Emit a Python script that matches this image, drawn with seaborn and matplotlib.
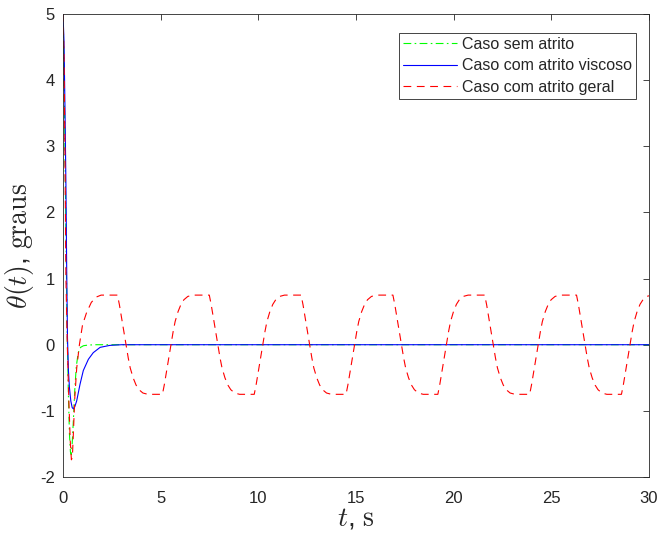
import numpy as np
import pandas as pd
import seaborn as sns
import matplotlib
matplotlib.use('Agg')
import matplotlib.pyplot as plt

# Caso sem atrito (green, dash-dot)
green_t = [0, 0.05, 0.1, 0.17, 0.22, 0.28, 0.33, 0.38, 0.42, 0.47, 0.53, 0.6, 0.68, 0.78,
           0.9, 1.05, 1.3, 1.7, 30]
green_theta = [5, 4.2, 3.0, 1.2, 0.1, -0.8, -1.35, -1.62, -1.66, -1.5, -1.15, -0.7, -0.33, -0.12,
               -0.04, -0.015, -0.005, 0.0, 0.0]

# Caso com atrito viscoso (blue, solid)
blue_t = [0, 0.05, 0.1, 0.15, 0.19, 0.23, 0.28, 0.33, 0.4, 0.47, 0.53, 0.6, 0.7, 0.87,
          1.04, 1.3, 1.55, 1.9, 2.4, 3.0, 30]
blue_theta = [5, 4.6, 3.6, 2.4, 1.1, 0.1, -0.4, -0.65, -0.85, -0.95, -0.97, -0.94, -0.85, -0.6,
              -0.39, -0.22, -0.12, -0.04, -0.01, 0.0, 0.0]

# Caso com atrito geral (red, dashed)
red_t = [0, 0.05, 0.1, 0.15, 0.22, 0.3, 0.37, 0.43, 0.48, 0.53, 0.6, 0.7, 0.84, 1.0, 1.2, 1.45, 1.7, 1.95,
         2.79, 2.89, 2.99, 3.09, 3.22, 3.34, 3.44, 3.59, 3.74, 3.89, 4.09, 4.34,
         5.09, 5.19, 5.29, 5.39, 5.52, 5.64, 5.74, 5.89, 6.04, 6.19, 6.39, 6.64,
         7.49, 7.59, 7.69, 7.79, 7.92, 8.04, 8.14, 8.29, 8.44, 8.59, 8.79, 9.04,
         9.79, 9.89, 9.99, 10.09, 10.22, 10.34, 10.44, 10.59, 10.74, 10.89, 11.09, 11.34,
         12.19, 12.29, 12.39, 12.49, 12.62, 12.74, 12.84, 12.99, 13.14, 13.29, 13.49, 13.74,
         14.49, 14.59, 14.69, 14.79, 14.92, 15.04, 15.14, 15.29, 15.44, 15.59, 15.79, 16.04,
         16.89, 16.99, 17.09, 17.19, 17.32, 17.44, 17.54, 17.69, 17.84, 17.99, 18.19, 18.44,
         19.19, 19.29, 19.39, 19.49, 19.62, 19.74, 19.84, 19.99, 20.14, 20.29, 20.49, 20.74,
         21.59, 21.69, 21.79, 21.89, 22.02, 22.14, 22.24, 22.39, 22.54, 22.69, 22.89, 23.14,
         23.89, 23.99, 24.09, 24.19, 24.32, 24.44, 24.54, 24.69, 24.84, 24.99, 25.19, 25.44,
         26.29, 26.39, 26.49, 26.59, 26.72, 26.84, 26.94, 27.09, 27.24, 27.39, 27.59, 27.84,
         28.59, 28.69, 28.79, 28.89, 29.02, 29.14, 29.24, 29.39, 29.54, 29.69, 29.89, 30.0]
red_theta = [5, 4.4, 2.9, 1.0, 0.0, -0.85, -1.45, -1.74, -1.7, -1.35, -0.82, -0.36, 0.0, 0.3, 0.48, 0.64, 0.72, 0.75,
             0.75, 0.6, 0.42, 0.23, 0.0, -0.2, -0.35, -0.5, -0.61, -0.68, -0.73, -0.75,
             -0.75, -0.6, -0.42, -0.23, 0.0, 0.2, 0.35, 0.5, 0.61, 0.68, 0.73, 0.75,
             0.75, 0.6, 0.42, 0.23, 0.0, -0.2, -0.35, -0.5, -0.61, -0.68, -0.73, -0.75,
             -0.75, -0.6, -0.42, -0.23, 0.0, 0.2, 0.35, 0.5, 0.61, 0.68, 0.73, 0.75,
             0.75, 0.6, 0.42, 0.23, 0.0, -0.2, -0.35, -0.5, -0.61, -0.68, -0.73, -0.75,
             -0.75, -0.6, -0.42, -0.23, 0.0, 0.2, 0.35, 0.5, 0.61, 0.68, 0.73, 0.75,
             0.75, 0.6, 0.42, 0.23, 0.0, -0.2, -0.35, -0.5, -0.61, -0.68, -0.73, -0.75,
             -0.75, -0.6, -0.42, -0.23, 0.0, 0.2, 0.35, 0.5, 0.61, 0.68, 0.73, 0.75,
             0.75, 0.6, 0.42, 0.23, 0.0, -0.2, -0.35, -0.5, -0.61, -0.68, -0.73, -0.75,
             -0.75, -0.6, -0.42, -0.23, 0.0, 0.2, 0.35, 0.5, 0.61, 0.68, 0.73, 0.75,
             0.75, 0.6, 0.42, 0.23, 0.0, -0.2, -0.35, -0.5, -0.61, -0.68, -0.73, -0.75,
             -0.75, -0.6, -0.42, -0.23, 0.0, 0.2, 0.35, 0.5, 0.61, 0.68, 0.73, 0.74]

labels = ['Caso sem atrito', 'Caso com atrito viscoso', 'Caso com atrito geral']
x_ticks = [0, 5, 10, 15, 20, 25, 30]
y_ticks = [-2, -1, 0, 1, 2, 3, 4, 5]

sns.set_style('white')
plt.rcParams['font.family'] = ['Liberation Sans', 'DejaVu Sans']
plt.rcParams['mathtext.fontset'] = 'cm'
plt.rcParams['axes.unicode_minus'] = False

fig = plt.figure(figsize=(6.59, 5.36), dpi=100)
ax = fig.add_axes([63/659, 1-477/536, 586/659, 463/536])

sns.lineplot(x=green_t, y=green_theta, ax=ax, color=(0, 1, 0), lw=0.8,
             linestyle=(0, (7, 3, 1.5, 3)), label=labels[0], estimator=None)
sns.lineplot(x=blue_t, y=blue_theta, ax=ax, color=(0, 0, 1), lw=0.8,
             linestyle='-', label=labels[1], estimator=None)
sns.lineplot(x=red_t, y=red_theta, ax=ax, color=(1, 0, 0), lw=0.8,
             linestyle=(0, (7, 5)), label=labels[2], estimator=None)

ax.set_xlim(0, 30)
ax.set_ylim(-2, 5)
ax.set_xticks(x_ticks)
ax.set_yticks(y_ticks)
ax.tick_params(direction='in', length=4, width=0.6, colors='#262626',
               labelsize=12, top=True, right=True)
ax.tick_params(axis='x', pad=10)
ax.tick_params(axis='y', pad=6)
for s in ax.spines.values():
    s.set_color('#262626')
    s.set_linewidth(0.6)

ax.set_xlabel(r'$t$, $\mathrm{s}$', fontsize=20, labelpad=0)
ax.set_ylabel(r'$\theta(t)$, $\mathrm{graus}$', fontsize=20)
ax.yaxis.set_label_coords(-0.046, 0.5)

leg = ax.legend(loc='upper right', bbox_to_anchor=((636-63)/586, (477-33)/463),
                borderaxespad=0, fontsize=11.5, handlelength=3.4, handletextpad=0.3,
                labelspacing=0.4, fancybox=False, framealpha=1, edgecolor='#262626',
                borderpad=0.25)
leg.get_frame().set_linewidth(0.6)

fig.savefig('out.png', dpi=100)
